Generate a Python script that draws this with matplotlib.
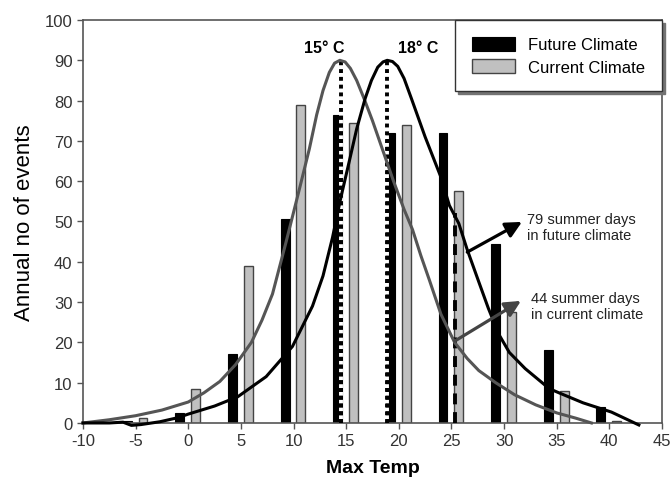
import matplotlib
matplotlib.use("Agg")
import matplotlib.pyplot as plt

plt.rcParams['font.family'] = ['Liberation Sans', 'DejaVu Sans']
plt.rcParams['axes.unicode_minus'] = False

# bar data (annual number of events per 5 degree class)
temps = [-5, 0, 5, 10, 15, 20, 25, 30, 35, 40]
future = [0.5, 2.5, 17, 50.5, 76.5, 72, 72, 44.5, 18, 4]
current = [1.2, 8.4, 39, 79, 74.5, 74, 57.5, 27.5, 8, 0.5]

# fitted curves
cur_x = [-10, -7.5, -5, -2.5, 0, 1.5, 3, 4.5, 6, 7, 8, 9.3, 10.6, 11.5, 12.2, 12.8,
         13.4, 13.9, 14.4, 14.9, 15.4, 16, 16.7, 17.5, 18.5, 19.5, 20.5, 21.3, 22.1,
         22.9, 24, 25.3, 26.5, 27.6, 29.2, 31, 33, 35, 36.8, 38.3]
cur_y = [0, 0.8, 1.8, 3.2, 5.2, 7.5, 10.3, 14.5, 20, 25.5, 32, 45, 58.5, 68, 76.5, 82.5,
         87, 89.3, 90, 89.6, 88, 85, 80.5, 75, 67.5, 60, 53, 48, 41.5,
         35.5, 27, 20, 16, 13, 10, 7, 4.5, 2.5, 1.2, 0]

fut_x = [-10, -7.5, -6.2, -5.4, -4.5, -2.7, -1, 0, 2.5, 4.7, 7.4, 9.9, 11.8, 12.8,
         13.7, 14.5, 15.3, 16, 16.8, 17.4, 18, 18.5, 18.9, 19.4, 19.9, 20.5, 21.2,
         22.5, 24, 24.8, 25.7, 26.5, 27.6, 28.5, 29.5, 30.5, 32, 34.3, 35.2, 37.5,
         40.2, 42.8]
fut_y = [0, 0, 0.2, -0.6, -0.4, 0.3, 1.3, 2.2, 4.2, 6.5, 11.5, 19, 29, 36.5,
         46, 56, 65, 73, 80.5, 85, 88.3, 89.6, 90, 89.7, 88.5, 85.5, 80.5,
         71, 61, 54, 49.5, 43, 35, 28.5, 22, 17.5, 13.5, 8.5, 7.5, 5,
         2.7, -0.5]

# peaks and summer-day threshold
peak_x = [14.5, 18.9]
peak_y = 90
peak_labels = ["15° C", "18° C"]
thresh_x = 25.3
thresh_top = 52

fig = plt.figure(figsize=(6.72, 4.89), dpi=100)
ax = fig.add_axes([0.1235, 0.133, 0.8616, 0.824])

bw = 0.85
ax.bar([t - 0.8 for t in temps], future, width=bw, color='black',
       edgecolor='black', linewidth=0.8, label='Future Climate', zorder=2)
ax.bar([t + 0.7 for t in temps], current, width=bw, color='#c0c0c0',
       edgecolor='#444444', linewidth=1.0, label='Current Climate', zorder=2)

ax.plot(cur_x, cur_y, color='#555555', lw=2.2, zorder=4, clip_on=False)
ax.plot(fut_x, fut_y, color='black', lw=2.2, zorder=4, clip_on=False)

for px in peak_x:
    ax.plot([px, px], [0, peak_y], color='black', lw=2.8, dashes=(1, 1),
            gapcolor='white', zorder=3)
ax.plot([thresh_x, thresh_x], [0, thresh_top], color='black', lw=2.8,
        dashes=(2.8, 2), zorder=3)

ax.text(12.9, 92, peak_labels[0], ha='center', va='baseline', fontsize=11.5,
        fontweight='bold')
ax.text(21.8, 92, peak_labels[1], ha='center', va='baseline', fontsize=11.5,
        fontweight='bold')

# arrows from the curves to the notes
ax.annotate("", xy=(31.7, 49.9), xytext=(26.5, 42.4),
            arrowprops=dict(arrowstyle='-|>', color='black', lw=2.3,
                            mutation_scale=24, shrinkA=0, shrinkB=0),
            annotation_clip=False, zorder=5)
ax.annotate("", xy=(31.6, 30.3), xytext=(25.3, 20.3),
            arrowprops=dict(arrowstyle='-|>', color='#444444', lw=2.3,
                            mutation_scale=24, shrinkA=0, shrinkB=0),
            annotation_clip=False, zorder=5)
ax.text(32.2, 52.4, "79 summer days\nin future climate", fontsize=10.5,
        color='#222222', va='top', ha='left', linespacing=1.2)
ax.text(32.6, 32.8, "44 summer days\nin current climate", fontsize=10.5,
        color='#222222', va='top', ha='left', linespacing=1.2)

ax.set_xlim(-10, 45)
ax.set_ylim(0, 100)
ax.set_xticks(range(-10, 46, 5))
ax.set_yticks(range(0, 101, 10))
ax.tick_params(direction='out', length=4, width=1, colors='#555555',
               labelcolor='#333333', labelsize=12)
for s in ax.spines.values():
    s.set_color('#555555')
    s.set_linewidth(1.2)

ax.set_xlabel("Max Temp", fontsize=14, fontweight='bold', labelpad=8)
ax.set_ylabel("Annual no of events", fontsize=16, labelpad=7)

leg = ax.legend(loc='upper right', fontsize=12, frameon=True, fancybox=False,
                borderaxespad=0, handlelength=2.6, handleheight=0.9,
                borderpad=1.0, labelspacing=0.4, handletextpad=0.8,
                shadow={'ox': 2, 'oy': -2, 'color': '0.45', 'alpha': 1})
leg.get_frame().set_edgecolor('#333333')
leg.get_frame().set_linewidth(1.0)

fig.savefig("out.png", dpi=100)
